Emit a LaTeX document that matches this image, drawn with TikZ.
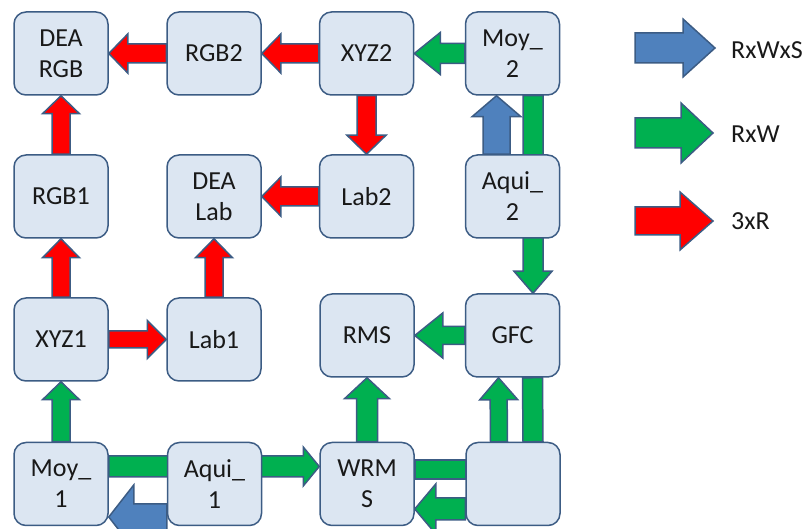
\documentclass[tikz,border=0pt]{standalone}
\usepackage{fontspec}
\setmainfont{Carlito}
\usetikzlibrary{calc}
\pgfdeclarelayer{background}
\pgfsetlayers{background,main}
\definecolor{boxfill}{RGB}{220,230,242}
\definecolor{edgeblue}{RGB}{60,92,132}
\definecolor{arrblue}{RGB}{79,129,189}
\definecolor{arrgreen}{RGB}{0,176,80}
\definecolor{arrred}{RGB}{255,0,0}
\tikzset{
  box/.style={draw=edgeblue, fill=boxfill, line width=1.5pt, rounded corners=12pt,
    minimum width=94pt, minimum height=83pt, inner sep=0pt, align=center,
    font=\fontsize{26}{31}\selectfont, text=black!90},
  legtext/.style={font=\fontsize{26}{30}\selectfont, anchor=west, inner sep=0pt, text=black!90},
  arrowline/.style={draw=edgeblue, line width=1.5pt, line join=miter},
  redarr/.style={fill=arrred},
  greenarr/.style={fill=arrgreen},
  bluearr/.style={fill=arrblue}
}
% block arrow: style, from, to, half shaft, half head, head length
\newcommand\blkarrow[6]{%
  \begin{pgfonlayer}{background}
    \coordinate (baA) at (#2);
    \coordinate (baB) at (#3);
    \coordinate (baH) at ($(baB)!#6!(baA)$);
    \filldraw[arrowline,#1] ($(baA)!#4!90:(baB)$) -- ($(baH)!#4!90:(baB)$)
      -- ($(baH)!#5!90:(baB)$) -- (baB) -- ($(baH)!#5!-90:(baB)$)
      -- ($(baH)!#4!-90:(baB)$) -- ($(baA)!#4!-90:(baB)$) -- cycle;
  \end{pgfonlayer}}
% plain bar: style, from, to, half width
\newcommand\blkbar[4]{%
  \begin{pgfonlayer}{background}
    \coordinate (baA) at (#2);
    \coordinate (baB) at (#3);
    \filldraw[arrowline,#1] ($(baA)!#4!90:(baB)$) -- ($(baB)!#4!-90:(baA)$)
      -- ($(baB)!#4!90:(baA)$) -- ($(baA)!#4!-90:(baB)$) -- cycle;
  \end{pgfonlayer}}
\begin{document}
\begin{tikzpicture}[x=1pt,y=-1pt]
\useasboundingbox (0,0) rectangle (807,529);
% nodes
\node[box] (deargb) at (61,53.5) {DEA\\RGB};
\node[box] (rgb2) at (214,53.5) {RGB2};
\node[box] (xyz2) at (366.5,53.5) {XYZ2};
\node[box] (moy2) at (512.5,53.5) {Moy\_\\2};
\node[box] (rgb1) at (61,196.5) {RGB1};
\node[box] (dealab) at (214,196.5) {DEA\\Lab};
\node[box] (lab2) at (366.5,196.5) {Lab2};
\node[box] (aqui2) at (512.5,196.5) {Aqui\_\\2};
\node[box] (xyz1) at (61,339.5) {XYZ1};
\node[box] (lab1) at (214,339.5) {Lab1};
\node[box] (rms) at (367,335.5) {RMS};
\node[box] (gfc) at (512.5,335.5) {GFC};
\node[box] (moy1) at (61,484) {Moy\_\\1};
\node[box] (aqui1) at (214.5,484) {Aqui\_\\1};
\node[box] (wrms) at (367,484) {WRM\\S};
\node[box] (blank) at (513,484) {};
% red arrows
\blkarrow{redarr}{rgb2.west}{deargb.east}{9.5pt}{19.5pt}{19pt}
\blkarrow{redarr}{xyz2.west}{rgb2.east}{9.5pt}{19.5pt}{19pt}
\blkarrow{redarr}{xyz2.south}{lab2.north}{9.5pt}{19.5pt}{19pt}
\blkarrow{redarr}{lab2.west}{dealab.east}{9.5pt}{19.5pt}{19pt}
\blkarrow{redarr}{rgb1.north}{deargb.south}{9pt}{18.5pt}{18pt}
\blkarrow{redarr}{xyz1.north}{rgb1.south}{9pt}{18.5pt}{19pt}
\blkarrow{redarr}{xyz1.east}{lab1.west}{8.5pt}{19pt}{19pt}
\blkarrow{redarr}{lab1.north}{dealab.south}{9pt}{18.5pt}{19pt}
% green arrows
\blkarrow{greenarr}{moy2.west}{xyz2.east}{10pt}{21pt}{26pt}
\blkarrow{greenarr}{$(moy2.south)+(20.5,0)$}{$(gfc.north)+(20.5,0)$}{10pt}{19pt}{22pt}
\blkarrow{greenarr}{gfc.west}{rms.east}{9pt}{22.5pt}{28pt}
\blkarrow{greenarr}{$(blank.north)+(-14,0)$}{$(gfc.south)+(-14,0)$}{8.5pt}{19pt}{22pt}
\blkbar{greenarr}{$(gfc.south)+(20,0)$}{$(blank.north)+(20,0)$}{10pt}
\blkarrow{greenarr}{wrms.north}{rms.south}{10.5pt}{22.5pt}{21pt}
\blkarrow{greenarr}{moy1.north}{xyz1.south}{9pt}{18.5pt}{18pt}
\blkarrow{greenarr}{$(moy1.east)+(0,-17.5)$}{$(wrms.west)+(0,-17.5)$}{10.5pt}{19.5pt}{16pt}
\blkbar{greenarr}{$(blank.west)+(0,-14.5)$}{$(wrms.east)+(0,-14.5)$}{9.5pt}
\blkarrow{greenarr}{$(blank.west)+(0,25)$}{$(wrms.east)+(0,25)$}{11pt}{25pt}{21pt}
% blue arrows
\blkarrow{bluearr}{$(aqui1.west)+(0,33)$}{$(moy1.east)+(0,33)$}{13pt}{32pt}{25pt}
\blkarrow{bluearr}{$(aqui2.north)+(-16,0)$}{$(moy2.south)+(-16,0)$}{13.5pt}{24.5pt}{21pt}
% legend
\coordinate (lgbA) at (635,48);  \coordinate (lgbB) at (715,48);
\coordinate (lggA) at (635,133); \coordinate (lggB) at (713,133);
\coordinate (lgrA) at (635,221); \coordinate (lgrB) at (713,221);
\blkarrow{bluearr}{lgbA}{lgbB}{15pt}{29pt}{32pt}
\blkarrow{greenarr}{lggA}{lggB}{15pt}{30pt}{32pt}
\blkarrow{redarr}{lgrA}{lgrB}{14pt}{29pt}{33pt}
\node[legtext] (lblb) at (731,50) {RxWxS};
\node[legtext] (lblg) at (731,134) {RxW};
\node[legtext] (lblr) at (731,221) {3xR};
\end{tikzpicture}
\end{document}
